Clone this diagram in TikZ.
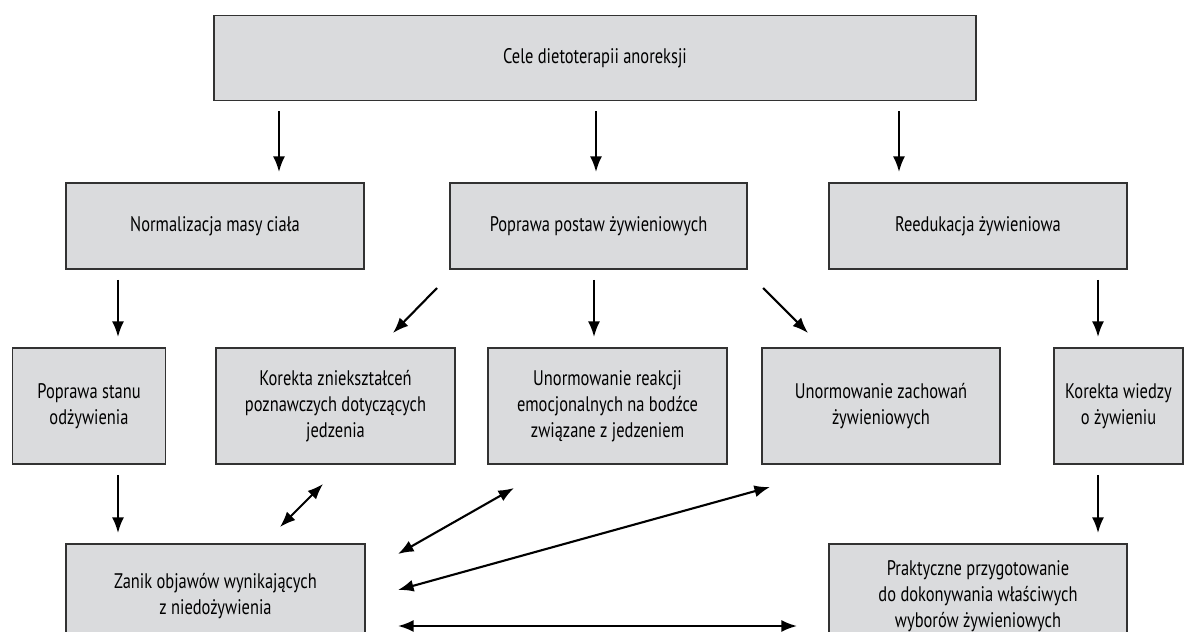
\documentclass[tikz,border=0pt]{standalone}
\usepackage{fontspec}
\setmainfont{PT Sans}[FakeStretch=0.78]
\usepackage{xcolor}
\usetikzlibrary{arrows.meta}

\definecolor{boxgray}{RGB}{218,219,221}
\definecolor{boxline}{RGB}{50,50,50}

\tikzset{
  celbox/.style={draw=boxline, line width=0.8pt, fill=boxgray, align=center,
    inner sep=2pt, font=\fontsize{15}{18.5}\selectfont},
  arr/.style={-{Latex[length=3.9mm,width=3mm]}, line width=1.5pt},
  darr/.style={{Latex[length=3.9mm,width=3mm]}-{Latex[length=3.9mm,width=3mm]}, line width=1.5pt},
  gap/.style={shorten <=2.6mm, shorten >=2.6mm}
}

\begin{document}
\begin{tikzpicture}[x=0.25mm, y=-0.25mm]
    \useasboundingbox (0,0) rectangle (1195,632);
    \clip (0,0) rectangle (1195,632);

    % top level
    \node[celbox, minimum width=762*0.25mm, minimum height=85*0.25mm] (cele) at (595,58) {Cele dietoterapii anoreksji};

    % second level
    \node[celbox, minimum width=298*0.25mm, minimum height=86*0.25mm] (norm) at (215,226) {Normalizacja masy ciała};
    \node[celbox, minimum width=297*0.25mm, minimum height=86*0.25mm] (postawy) at (598.5,226) {Poprawa postaw żywieniowych};
    \node[celbox, minimum width=298*0.25mm, minimum height=86*0.25mm] (reedu) at (978,226) {Reedukacja żywieniowa};

    % third level
    \node[celbox, minimum width=153*0.25mm, minimum height=116*0.25mm] (stan) at (89,406) {Poprawa stanu\\odżywienia};
    \node[celbox, minimum width=239*0.25mm, minimum height=116*0.25mm] (korekta) at (335.5,406) {Korekta zniekształceń\\poznawczych dotyczących\\jedzenia};
    \node[celbox, minimum width=239*0.25mm, minimum height=116*0.25mm] (reakcje) at (607.5,406) {Unormowanie reakcji\\emocjonalnych na bodźce\\związane z jedzeniem};
    \node[celbox, minimum width=238*0.25mm, minimum height=116*0.25mm] (zachow) at (881,406) {Unormowanie zachowań\\żywieniowych};
    \node[celbox, minimum width=129*0.25mm, minimum height=116*0.25mm] (wiedza) at (1118.5,406) {Korekta wiedzy\\o żywieniu};

    % bottom level
    \node[celbox, minimum width=299*0.25mm, minimum height=104*0.25mm] (zanik) at (215.5,596) {Zanik objawów wynikających\\z niedożywienia};
    \node[celbox, minimum width=298*0.25mm, minimum height=104*0.25mm] (prakt) at (978,596) {Praktyczne przygotowanie\\do dokonywania właściwych\\wyborów żywieniowych};

    % arrow columns
    \coordinate (k1) at (279,0);
    \coordinate (k2) at (596,0);
    \coordinate (k3) at (899,0);
    \coordinate (k4) at (118,0);
    \coordinate (k5) at (594,0);
    \coordinate (k6) at (1098,0);

    \draw[arr, gap] (cele.south -| k1) -- (norm.north -| k1);
    \draw[arr, gap] (cele.south -| k2) -- (postawy.north -| k2);
    \draw[arr, gap] (cele.south -| k3) -- (reedu.north -| k3);

    \draw[arr, gap] (norm.south -| k4) -- (stan.north -| k4);
    \draw[arr, gap] (postawy.south -| k5) -- (reakcje.north -| k5);
    \draw[arr, gap] (reedu.south -| k6) -- (wiedza.north -| k6);

    \draw[arr, gap] (stan.south -| k4) -- (zanik.north -| k4);
    \draw[arr, gap] (wiedza.south -| k6) -- (prakt.north -| k6);

    % diagonal arrows from the middle goal
    \coordinate (pk1) at (437,288);
    \coordinate (pk2) at (393,333);
    \coordinate (pz1) at (763,288);
    \coordinate (pz2) at (808,333);
    \draw[arr] (pk1) -- (pk2);
    \draw[arr] (pz1) -- (pz2);

    % links to the bottom goal
    \coordinate (zk1) at (280,527);
    \coordinate (zk2) at (323,484);
    \coordinate (zr1) at (398,554);
    \coordinate (zr2) at (514,488);
    \coordinate (zz1) at (398,590);
    \coordinate (zz2) at (770,487);
    \coordinate (zp1) at (398,626);
    \coordinate (zp2) at (797,626);
    \draw[darr] (zk1) -- (zk2);
    \draw[darr] (zr1) -- (zr2);
    \draw[darr] (zz1) -- (zz2);
    \draw[darr] (zp1) -- (zp2);
\end{tikzpicture}
\end{document}
